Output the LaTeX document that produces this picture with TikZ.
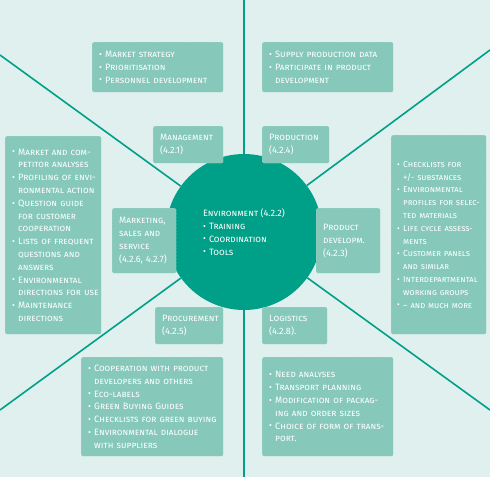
\documentclass[tikz,border=0pt]{standalone}
\usepackage{fontspec}
\setmainfont{Fira Sans}
\usepackage{xcolor}
\usepackage{tikz}
\definecolor{BACK}{HTML}{E0F0EF}
\definecolor{TILE}{HTML}{86C9BA}
\definecolor{CORE}{HTML}{00A088}

\newcommand\bl[1]{\mbox{\makebox[6pt][l]{\raisebox{0.05ex}{\scalebox{0.95}{\textbullet}}}#1}}
\newcommand\cn[1]{\mbox{\hspace*{6pt}#1}}

\begin{document}
\begin{tikzpicture}[
    x=1pt, y=-1pt,
    font=\fontsize{9.2}{12.8}\selectfont\scshape,
    tile/.style={fill=TILE, draw=TILE!60!white, densely dotted, line width=0.4pt,
      rounded corners=2pt, text=white, align=left, anchor=north west,
      inner xsep=7pt, inner ysep=0pt},
    tight/.style={font=\fontsize{8.6}{12.8}\selectfont\scshape, inner xsep=6pt},
    spoke/.style={draw=CORE, line width=1.6pt},
    hub/.style={circle, fill=CORE, minimum size=156pt, inner sep=0pt,
      text=white, align=left},
  ]

  % background and frame
  \fill[BACK] (0,0) rectangle (490,477);
  \useasboundingbox (0,0) rectangle (490,477);

  % --- Centre ---
  \node[hub] (env) at (244,232) {\mbox{Environment (4.2.2)}\\
    \bl{Training}\\ \bl{Coordination}\\ \bl{Tools}};

  \coordinate (ul) at (0,55);
  \coordinate (ur) at (490,50);
  \coordinate (ll) at (0,410);
  \coordinate (lr) at (490,410);
  \coordinate (up) at (244,0);
  \coordinate (dn) at (244,477);
  \foreach \c in {ul,ur,ll,lr,up,dn}
    \draw[spoke] (env) -- (\c);

  % --- Management ---
  \node[tile, text width=117pt, minimum height=50pt] (mgmtlist) at (92,42)
    {\bl{Market strategy}\\ \bl{Prioritisation}\\ \bl{Personnel development}};
  \node[tile, text width=56pt, minimum height=37pt] (mgmt) at (153,126)
    {Management\\(4.2.1)};

  % --- Production ---
  \node[tile, text width=117pt, minimum height=50pt] (prodlist) at (262,42)
    {\bl{Supply production data}\\ \bl{Participate in product}\\ \cn{development}};
  \node[tile, text width=53pt, minimum height=37pt] (prod) at (262,126)
    {Production\\(4.2.4)};

  % --- Marketing ---
  \node[tile, text width=82pt, minimum height=198pt] (mktlist) at (5,136)
    {\bl{Market and com-}\\ \cn{petitor analyses}\\
     \bl{Profiling of envi-}\\ \cn{ronmental action}\\
     \bl{Question guide}\\ \cn{for customer}\\ \cn{cooperation}\\
     \bl{Lists of frequent}\\ \cn{questions and}\\ \cn{answers}\\
     \bl{Environmental}\\ \cn{directions for use}\\
     \bl{Maintenance}\\ \cn{directions}};
  \node[tile, text width=50pt, minimum height=65pt] (mkt) at (112,208)
    {Marketing,\\sales and\\service\\\mbox{(4.2.6, 4.2.7)}};

  % --- Product development ---
  \node[tile, tight, text width=83pt, minimum height=199pt] (devlist) at (391,135)
    {\bl{Checklists for}\\ \cn{+/- substances}\\
     \bl{Environmental}\\ \cn{profiles for selec-}\\ \cn{ted materials}\\
     \bl{Life cycle assess-}\\ \cn{ments}\\
     \bl{Customer panels}\\ \cn{and similar}\\
     \bl{Interdepartmental}\\ \cn{working groups}\\
     \bl{-- and much more}};
  \node[tile, text width=50pt, minimum height=65pt] (dev) at (316,208)
    {Product\\developm.\\(4.2.3)};

  % --- Procurement ---
  \node[tile, text width=54pt, minimum height=37pt] (proc) at (155,307)
    {Procurement\\(4.2.5)};
  \node[tile, text width=128pt, minimum height=99pt] (proclist) at (81,357)
    {\bl{Cooperation with product}\\ \cn{developers and others}\\
     \bl{Eco-labels}\\ \bl{Green Buying Guides}\\
     \bl{Checklists for green buying}\\
     \bl{Environmental dialogue}\\ \cn{with suppliers}};

  % --- Logistics ---
  \node[tile, text width=51pt, minimum height=37pt] (logi) at (262,307)
    {Logistics\\(4.2.8).};
  \node[tile, text width=117pt, minimum height=99pt] (loglist) at (262,357)
    {\bl{Need analyses}\\ \bl{Transport planning}\\
     \bl{Modification of packag-}\\ \cn{ing and order sizes}\\
     \bl{Choice of form of trans-}\\ \cn{port.}};

\end{tikzpicture}
\end{document}
